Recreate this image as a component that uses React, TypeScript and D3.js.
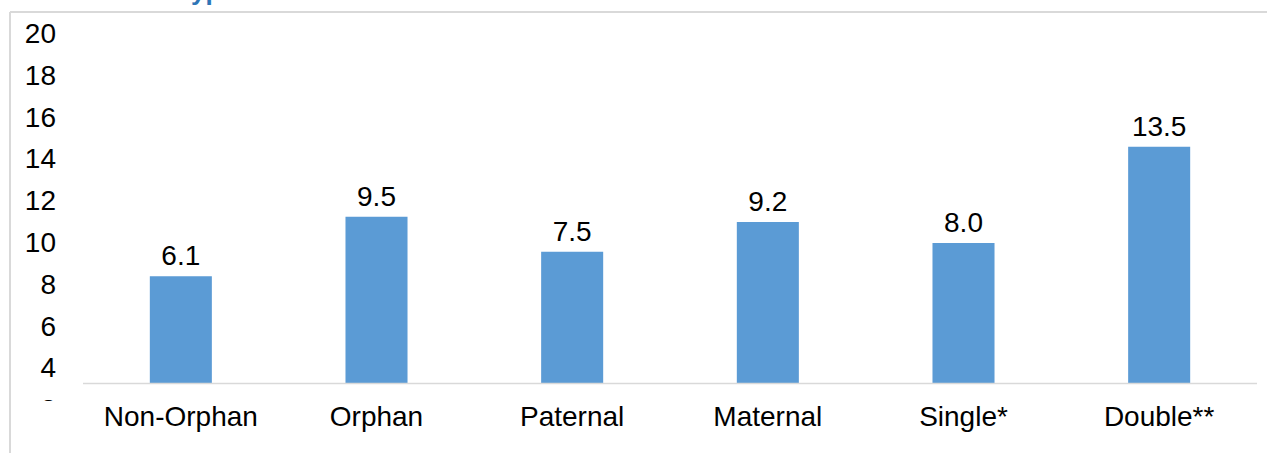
import React from "react";
import * as d3 from "d3";

const categories = ["Non-Orphan", "Orphan", "Paternal", "Maternal", "Single*", "Double**"];
const values = [6.1, 9.5, 7.5, 9.2, 8.0, 13.5];
const yTickLabels = [20, 18, 16, 14, 12, 10, 8, 6, 4, 2, 0];

const W = 1267;
const H = 453;
const FONT = "Liberation Sans, Arial, sans-serif";

export default function App() {
  const x = d3
    .scaleBand<string>()
    .domain(categories)
    .range([83, 1257])
    .paddingInner(0.683)
    .paddingOuter(0.3415);
  const y = d3.scaleLinear().domain([0, 20]).range([383, 33]);
  // tick labels are laid out on their own evenly spaced track (overflowing, as in the source)
  const yLab = d3.scaleLinear().domain([20, 0]).range([43, 43 + 10 * 41.8]);

  return (
    <svg
      width={W}
      height={H}
      style={{ position: "absolute", left: 0, top: 0, background: "#fff" }}
      fontFamily={FONT}
    >
      <defs>
        <clipPath id="ylabclip">
          <rect x={0} y={12} width={80} height={389} />
        </clipPath>
      </defs>
      {/* partially visible title */}
      <text x={177} y={-0.5} fontSize={26} fontWeight="bold" fill="#2e75b6">
        Type
      </text>
      {/* frame */}
      <line x1={10} x2={W} y1={12} y2={12} stroke="#d9d9d9" strokeWidth={2} />
      <line x1={10} x2={10} y1={12} y2={H} stroke="#d9d9d9" strokeWidth={2} />

      {/* y labels */}
      <g clipPath="url(#ylabclip)">
        {yTickLabels.map((t) => (
          <text key={t} x={56} y={yLab(t)} textAnchor="end" fontSize={28} fill="#000">
            {t}
          </text>
        ))}
      </g>

      {/* bars */}
      {categories.map((c, i) => (
        <g key={c}>
          <rect
            x={x(c)!}
            y={y(values[i])}
            width={x.bandwidth()}
            height={y(0) - y(values[i])}
            fill="#5b9bd5"
          />
          <text
            x={x(c)! + x.bandwidth() / 2}
            y={y(values[i]) - 11}
            textAnchor="middle"
            fontSize={28}
            fill="#000"
          >
            {values[i].toFixed(1)}
          </text>
          <text
            x={x(c)! + x.bandwidth() / 2}
            y={426}
            textAnchor="middle"
            fontSize={28}
            fill="#000"
          >
            {c}
          </text>
        </g>
      ))}

      {/* axis line */}
      <line x1={83} x2={1257} y1={y(0) + 0.5} y2={y(0) + 0.5} stroke="#d9d9d9" strokeWidth={1.5} />
    </svg>
  );
}
